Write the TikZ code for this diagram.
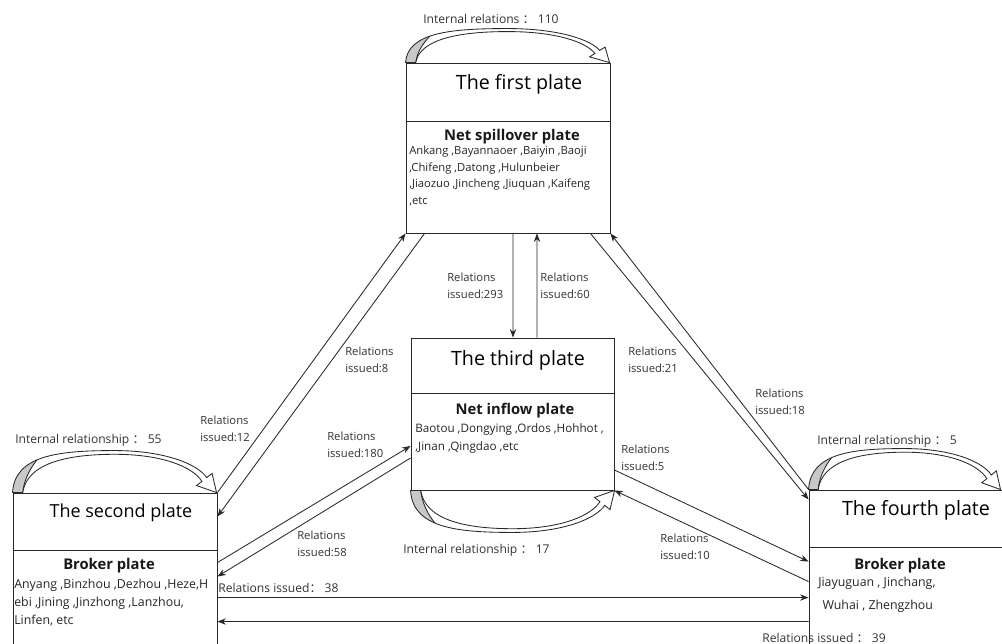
\documentclass[tikz,border=0pt]{standalone}
\usepackage{fontspec}
\setmainfont{Open Sans}
\newfontfamily\cjk{Noto Sans CJK SC}
\usetikzlibrary{arrows.meta}

\definecolor{linec}{RGB}{40,40,40}
\definecolor{loopgray}{RGB}{200,200,200}
\newcommand{\fwc}{{\cjk ：}}

% band of a curved plate arrow, drawn in a 200 x 45 box
\def\loopband{(0,0) .. controls (2,-40) and (45,-45) .. (100,-45)
  .. controls (150,-45) and (182,-30) .. (190.3,-16)
  -- (195.6,-20.5) -- (200,0) -- (180.4,-7.5) -- (185.7,-12)
  .. controls (177,-27) and (148,-41) .. (100,-41)
  .. controls (50,-41) and (14,-30) .. (10,0) -- cycle}

\newcommand{\plateloop}[3]{%
  \begin{scope}[shift={(#1)}, xscale=#2/200, yscale=#3/45]
    \fill[white] \loopband;
    \begin{scope}
      \clip \loopband;
      \fill[loopgray] (-5,5) -- (-5,-60) -- (48,-60) .. controls (26,-42) and (12,-22) .. (10,0) -- cycle;
      \draw[loopline] (48,-60) .. controls (26,-42) and (12,-22) .. (10,0);
    \end{scope}
    \draw[loopline] \loopband;
  \end{scope}}

\tikzset{
  plate/.style={draw=linec, line width=0.6pt, inner sep=0pt},
  title/.style={font=\fontsize{14}{16}\selectfont, text=black},
  head/.style={font=\bfseries\fontsize{10.5}{12}\selectfont, text=black!90},
  cities/.style={font=\fontsize{8}{11.7}\selectfont, align=left, anchor=west, inner sep=0pt, text=black!85},
  lab/.style={font=\fontsize{8}{12.3}\selectfont, align=left, anchor=west, inner sep=0pt, text=black!80},
  biglab/.style={lab, font=\fontsize{8.6}{12.3}\selectfont},
  arr/.style={->, line width=0.6pt, draw=linec},
  loopline/.style={line width=0.6pt, draw=linec},
}

\begin{document}
\begin{tikzpicture}[x=0.025cm, y=-0.025cm, >={Stealth[length=6pt, width=4.5pt]}]
\useasboundingbox (0,0) rectangle (1002,644);
\fill[white] (0,0) rectangle (1002,644);
\clip (0,0) rectangle (1002,644);

% plates
\node[plate, minimum width=5.1cm, minimum height=4.25cm] (first) at (508,148) {};
\node[plate, minimum width=5.075cm, minimum height=3.8cm] (third) at (512.5,414) {};
\node[plate, minimum width=5.1cm, minimum height=4.175cm] (second) at (115,576.5) {};
\node[plate, minimum width=5.3cm, minimum height=4.25cm] (fourth) at (915,575) {};

\draw[loopline] ([shift={(0,59)}]first.north west) -- ([shift={(0,59)}]first.north east);
\draw[loopline] ([shift={(0,56)}]third.north west) -- ([shift={(0,56)}]third.north east);
\draw[loopline] ([shift={(0,58)}]second.north west) -- ([shift={(0,58)}]second.north east);
\draw[loopline] ([shift={(0,58)}]fourth.north west) -- ([shift={(0,58)}]fourth.north east);

\node[title] (t1) at (519,84) {The first plate};
\node[title] (t3) at (518,360) {The third plate};
\node[title, font=\fontsize{12.8}{15}\selectfont] (t2) at (121,513) {The second plate};
\node[title] (t4) at (916,510) {The fourth plate};

\node[head] (h1) at (512,137) {Net spillover plate};
\node[head] (h3) at (515,411) {Net inflow plate};
\node[head] (h2) at (109,566) {Broker plate};
\node[head] (h4) at (900,566) {Broker plate};

\node[cities] (c1) at (409,176) {Ankang ,Bayannaoer ,Baiyin ,Baoji\\,Chifeng ,Datong ,Hulunbeier\\,Jiaozuo ,Jincheng ,Jiuquan ,Kaifeng\\,etc};
\node[cities, font=\fontsize{8.3}{12.8}\selectfont] (c3) at (415,438) {Baotou ,Dongying ,Ordos ,Hohhot ,\\,Jinan ,Qingdao ,etc};
\node[cities, font=\fontsize{8.8}{12.8}\selectfont] (c2) at (14,603) {Anyang ,Binzhou ,Dezhou ,Heze,H\\ebi ,Jining ,Jinzhong ,Lanzhou,\\Linfen, etc};
\node[cities, font=\fontsize{8.8}{16}\selectfont] (c4) at (818,595) {Jiayuguan , Jinchang,\\\hspace{3pt}Wuhai , Zhengzhou};

% internal loops
\plateloop{first.north west}{204}{34}
\plateloop{second.north west}{204}{42}
\plateloop{fourth.north west}{192}{41}
\plateloop{third.south west}{204}{-42}

\node[biglab] (i1) at (423,19) {Internal relations \fwc\ 110};
\node[biglab] (i2) at (15,440) {Internal relationship \fwc\ 55};
\node[biglab] (i3) at (403,550) {Internal relationship \fwc\ 17};
\node[biglab] (i4) at (817,441) {Internal relationship \fwc\ 5};

% relations between plates
\draw[arr] ([shift={(5,0)}]first.south) -- ([shift={(0.5,0)}]third.north);
\draw[arr] ([shift={(24.5,0)}]third.north) -- ([shift={(29,0)}]first.south);
\draw[arr] (second.north east) -- (first.south west);
\draw[arr] ([shift={(19,0)}]first.south west) -- ([shift={(0,24)}]second.north east);
\draw[arr] ([shift={(-20,0)}]first.south east) -- ([shift={(0,10)}]fourth.north west);
\draw[arr] (fourth.north west) -- (first.south east);
\draw[arr] ([shift={(0,70)}]second.north east) -- ([shift={(0,32)}]third.west);
\draw[arr] ([shift={(0,44)}]third.west) -- ([shift={(0,84)}]second.north east);
\draw[arr] ([shift={(0,56)}]third.east) -- ([shift={(0,72)}]fourth.north west);
\draw[arr] ([shift={(0,92)}]fourth.north west) -- (third.south east);
\draw[arr] ([shift={(0,105)}]second.north east) -- ([shift={(0,108)}]fourth.north west);
\draw[arr] ([shift={(0,132)}]fourth.north west) -- ([shift={(0,129)}]second.north east);

\node[lab] (r293) at (447,286) {Relations\\issued:293};
\node[lab] (r60) at (540,286) {Relations\\issued:60};
\node[lab] (r12) at (200,429) {Relations\\issued:12};
\node[lab] (r8) at (345,360) {Relations\\issued:8};
\node[lab] (r180) at (327,445) {Relations\\issued:180};
\node[lab] (r58) at (297,544) {Relations\\issued:58};
\node[lab] (r21) at (628,360) {Relations\\issued:21};
\node[lab] (r18) at (755,402) {Relations\\issued:18};
\node[lab] (r5) at (621,458) {Relations\\issued:5};
\node[lab] (r10) at (660,547) {Relations\\issued:10};
\node[biglab] (r38) at (218,588) {Relations issued\fwc\ 38};
\node[biglab] (r39) at (762,638) {Relations issued \fwc\ 39};
\end{tikzpicture}
\end{document}
